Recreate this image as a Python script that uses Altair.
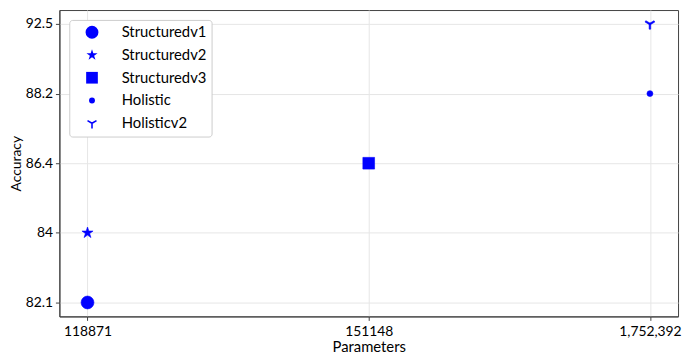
import math
import altair as alt
import pandas as pd

# Data
models = ["Structuredv1", "Structuredv2", "Structuredv3", "Holistic", "Holisticv2"]
params = ["118871", "118871", "151148", "1,752,392", "1,752,392"]
accuracy = ["82.1", "84", "86.4", "88.2", "92.5"]
param_ticks = ["118871", "151148", "1,752,392"]
acc_ticks = ["82.1", "84", "86.4", "88.2", "92.5"]

df = pd.DataFrame({"Model": models, "Parameters": params, "Accuracy": accuracy})

# marker shapes (style)
pts = []
for k in range(10):
    ang = math.radians(-90 + k * 36)
    r = 1.0 if k % 2 == 0 else 0.381966
    pts.append(f"{r*math.cos(ang):.4f},{r*math.sin(ang):.4f}")
star = "M" + "L".join(pts) + "Z"

# tri_down ("Y") built from three thin filled arms so it shows in the legend too
w = 0.15
arms = []
for deg in (90, 210, 330):
    a = math.radians(deg)
    dx, dy = math.cos(a), math.sin(a)
    nx, ny = -dy * w, dx * w
    p = [(nx, ny), (nx + dx, ny + dy), (-nx + dx, -ny + dy), (-nx, -ny)]
    arms.append("M" + "L".join(f"{x:.4f},{y:.4f}" for x, y in p) + "Z")
tri_down = "".join(arms)

shapes = ["circle", star, "square", "circle", tri_down]
sizes = [170, 140, 140, 36, 110]

blue = "#0000ff"

chart = alt.Chart(df).mark_point(filled=True, color=blue, stroke=blue, strokeWidth=0.6, opacity=1).encode(
    x=alt.X("Parameters:N", scale=alt.Scale(type="point", domain=param_ticks, padding=0.1),
            axis=alt.Axis(title="Parameters", labelAngle=0)),
    y=alt.Y("Accuracy:N", scale=alt.Scale(type="point", domain=list(reversed(acc_ticks)), padding=0.2),
            axis=alt.Axis(title="Accuracy")),
    shape=alt.Shape("Model:N", scale=alt.Scale(domain=models, range=shapes),
                    legend=alt.Legend(title=None, orient="none", legendX=10, legendY=10)),
    size=alt.Size("Model:N", scale=alt.Scale(type="ordinal", domain=models, range=sizes)),
).properties(
    width=626, height=310,
    autosize=alt.AutoSizeParams(type="none"),
    padding={"left": 52, "top": 0, "right": 4, "bottom": 39},
).configure(
    font="Lato",
).configure_view(
    stroke="#404040", strokeWidth=1,
).configure_axis(
    zindex=1,
    grid=True, gridColor="#e6e6e6", gridWidth=1,
    domainColor="#404040", tickColor="#404040", tickSize=4,
    labelFontSize=14, labelColor="black", titleFontSize=15, titleColor="black",
    titleFontWeight="normal", labelPadding=3,
).configure_axisX(
    labelPadding=4, titlePadding=2,
).configure_axisY(
    titlePadding=2, titleFontSize=14,
).configure_legend(
    fillColor="white", strokeColor="#cccccc", cornerRadius=3,
    padding=5, rowPadding=7, symbolOffset=10.5, labelOffset=22.5,
    labelFontSize=15, labelColor="black",
    symbolFillColor=blue, symbolStrokeColor=blue, symbolStrokeWidth=0.6,
)

chart.save("out.html", embed_options={"renderer": "svg", "actions": False})
